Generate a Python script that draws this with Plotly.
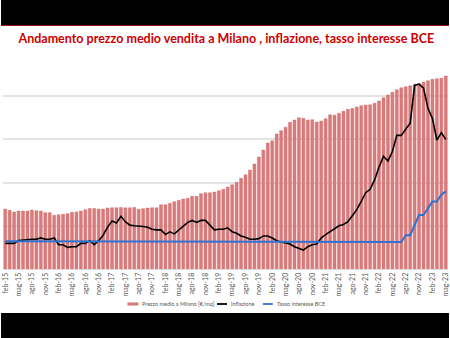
import plotly.graph_objects as go

mesi = ["gen", "feb", "mar", "apr", "mag", "giu", "lug", "ago", "set", "ott", "nov", "dic"]
categorie = [f"{mesi[m]}-{str(y)[2:]}" for y in range(2015, 2024) for m in range(12)
             if (y, m) >= (2015, 1) and (y, m) <= (2023, 4)]

prezzo_milano = [
    3694, 3679, 3660, 3671, 3671, 3671, 3683, 3675, 3671, 3652,
    3652, 3622, 3628, 3633, 3640, 3656, 3660, 3671, 3686, 3700,
    3700, 3694, 3694, 3706, 3709, 3709, 3712, 3708, 3708, 3712,
    3692, 3698, 3706, 3709, 3709, 3744, 3744, 3760, 3779, 3795,
    3810, 3818, 3841, 3841, 3872, 3883, 3883, 3891, 3906, 3922,
    3949, 3976, 4003, 4050, 4091, 4146, 4215, 4296, 4377, 4458,
    4485, 4563, 4601, 4640, 4698, 4725, 4751, 4744, 4725, 4728,
    4701, 4713, 4740, 4786, 4779, 4802, 4825, 4848, 4858, 4875,
    4890, 4898, 4902, 4918, 4944, 4983, 5014, 5045, 5075, 5098,
    5110, 5121, 5138, 5145, 5161, 5179, 5196, 5203, 5207, 5234,
]

inflazione = [
    -0.1, -0.1, -0.1, 0.1, 0.15, 0.2, 0.2, 0.2, 0.3, 0.2,
    0.2, 0.3, -0.2, -0.2, -0.4, -0.35, -0.35, -0.1, -0.1, 0.1,
    -0.2, 0.1, 0.5, 1.1, 1.55, 1.4, 1.9, 1.5, 1.25, 1.2,
    1.2, 1.15, 1.1, 0.95, 0.9, 0.9, 0.55, 0.75, 0.6, 0.9,
    1.2, 1.45, 1.6, 1.45, 1.6, 1.6, 1.25, 0.9, 0.95, 0.95,
    1.05, 0.75, 0.65, 0.45, 0.35, 0.2, 0.2, 0.25, 0.45, 0.45,
    0.3, 0.1, 0.0, -0.1, -0.15, -0.35, -0.5, -0.6, -0.35, -0.2,
    -0.15, 0.3, 0.55, 0.75, 1.0, 1.2, 1.3, 1.5, 1.95, 2.4,
    3.0, 3.65, 3.9, 4.6, 5.55, 6.35, 6.0, 6.7, 7.9, 7.9,
    8.35, 8.8, 11.6, 11.7, 11.4, 9.9, 9.15, 7.55, 8.1, 7.6,
]

tasso_bce = [0.05] * 13 + [0.0] * 77 + [0.5, 0.5, 1.25, 2.0, 2.0, 2.5, 3.0, 3.0, 3.5, 3.75]

serie_nomi = ["Prezzo medio a Milano [€/mq]", "Inflazione", "Tasso interesse BCE"]
serie_colori = ["#d97b7c", "#000000", "#2f72d2"]

tick_labels = [c for i, c in enumerate(categorie) if i % 3 == 0]

fig = go.Figure()
fig.add_trace(go.Bar(
    x=categorie, y=prezzo_milano, name=serie_nomi[0],
    marker=dict(color=serie_colori[0], line=dict(color="#c96465", width=0.4)),
))
fig.add_trace(go.Scatter(
    x=categorie, y=inflazione, name=serie_nomi[1], yaxis="y2", mode="lines",
    line=dict(color=serie_colori[1], width=1.6),
))
fig.add_trace(go.Scatter(
    x=categorie, y=tasso_bce, name=serie_nomi[2], yaxis="y2", mode="lines",
    line=dict(color=serie_colori[2], width=2),
))

W, H = 450, 338
L, R, T, B = 2, 1, 53, 69
pw, ph = W - L - R, H - T - B

def px_y(p):
    return (H - B - p) / ph

def px_x(p):
    return (p - L) / pw

shapes = [
    dict(type="rect", xref="paper", yref="paper", x0=px_x(0), x1=px_x(W), y0=px_y(0), y1=px_y(25),
         fillcolor="black", line=dict(width=0), layer="below"),
    dict(type="line", xref="paper", yref="paper", x0=px_x(0), x1=px_x(W), y0=px_y(25.5), y1=px_y(25.5),
         line=dict(color="#a01010", width=1)),
    dict(type="rect", xref="paper", yref="paper", x0=px_x(0), x1=px_x(W), y0=px_y(313), y1=px_y(H),
         fillcolor="black", line=dict(width=0), layer="below"),
]

# custom legend (swatch + label) below the axis
leg_y = 304
leg_items = [
    dict(kind="rect", x0=127, x1=138, tx=140),
    dict(kind="line", x0=217, x1=227, tx=229),
    dict(kind="line", x0=263, x1=273, tx=275),
]
annotations = []
for item, nome, col in zip(leg_items, serie_nomi, serie_colori):
    if item["kind"] == "rect":
        shapes.append(dict(type="rect", xref="paper", yref="paper",
                           x0=px_x(item["x0"]), x1=px_x(item["x1"]),
                           y0=px_y(leg_y + 1.6), y1=px_y(leg_y - 1.6),
                           fillcolor=col, line=dict(width=0)))
    else:
        shapes.append(dict(type="line", xref="paper", yref="paper",
                           x0=px_x(item["x0"]), x1=px_x(item["x1"]),
                           y0=px_y(leg_y), y1=px_y(leg_y),
                           line=dict(color=col, width=1.8)))
    annotations.append(dict(text=nome, xref="paper", yref="paper", x=px_x(item["tx"]), y=px_y(leg_y),
                            xanchor="left", yanchor="middle", showarrow=False,
                            font=dict(family="Lato", size=5.5, color="#595959")))

fig.update_layout(
    width=W, height=H,
    margin=dict(l=L, r=R, t=T, b=B, pad=0),
    paper_bgcolor="white", plot_bgcolor="white",
    bargap=0.33,
    title=dict(text="<b>Andamento prezzo medio vendita a Milano , inflazione, tasso interesse BCE</b>",
               x=0.503, xanchor="center", y=1 - 39 / H, yanchor="middle", yref="container",
               font=dict(family="Lato", size=12.5, color="#cc0000")),
    xaxis=dict(type="category", range=[-0.5, len(categorie) - 0.5],
               tickmode="array", tickvals=tick_labels, ticktext=tick_labels,
               tickangle=-90, tickfont=dict(family="Lato", size=7, color="#595959"),
               showgrid=False, showline=True, linecolor="#d9d9d9", linewidth=1,
               ticks="", fixedrange=True),
    yaxis=dict(range=[3000, 5500], dtick=500, showticklabels=False, showgrid=True,
               gridcolor="#e4e4e4", gridwidth=1.5, zeroline=False, fixedrange=True),
    yaxis2=dict(range=[-2, 14], overlaying="y", side="right", showticklabels=False,
                showgrid=False, zeroline=False, fixedrange=True),
    showlegend=False,
    shapes=shapes,
    annotations=annotations,
)

fig.write_html("out.html")
